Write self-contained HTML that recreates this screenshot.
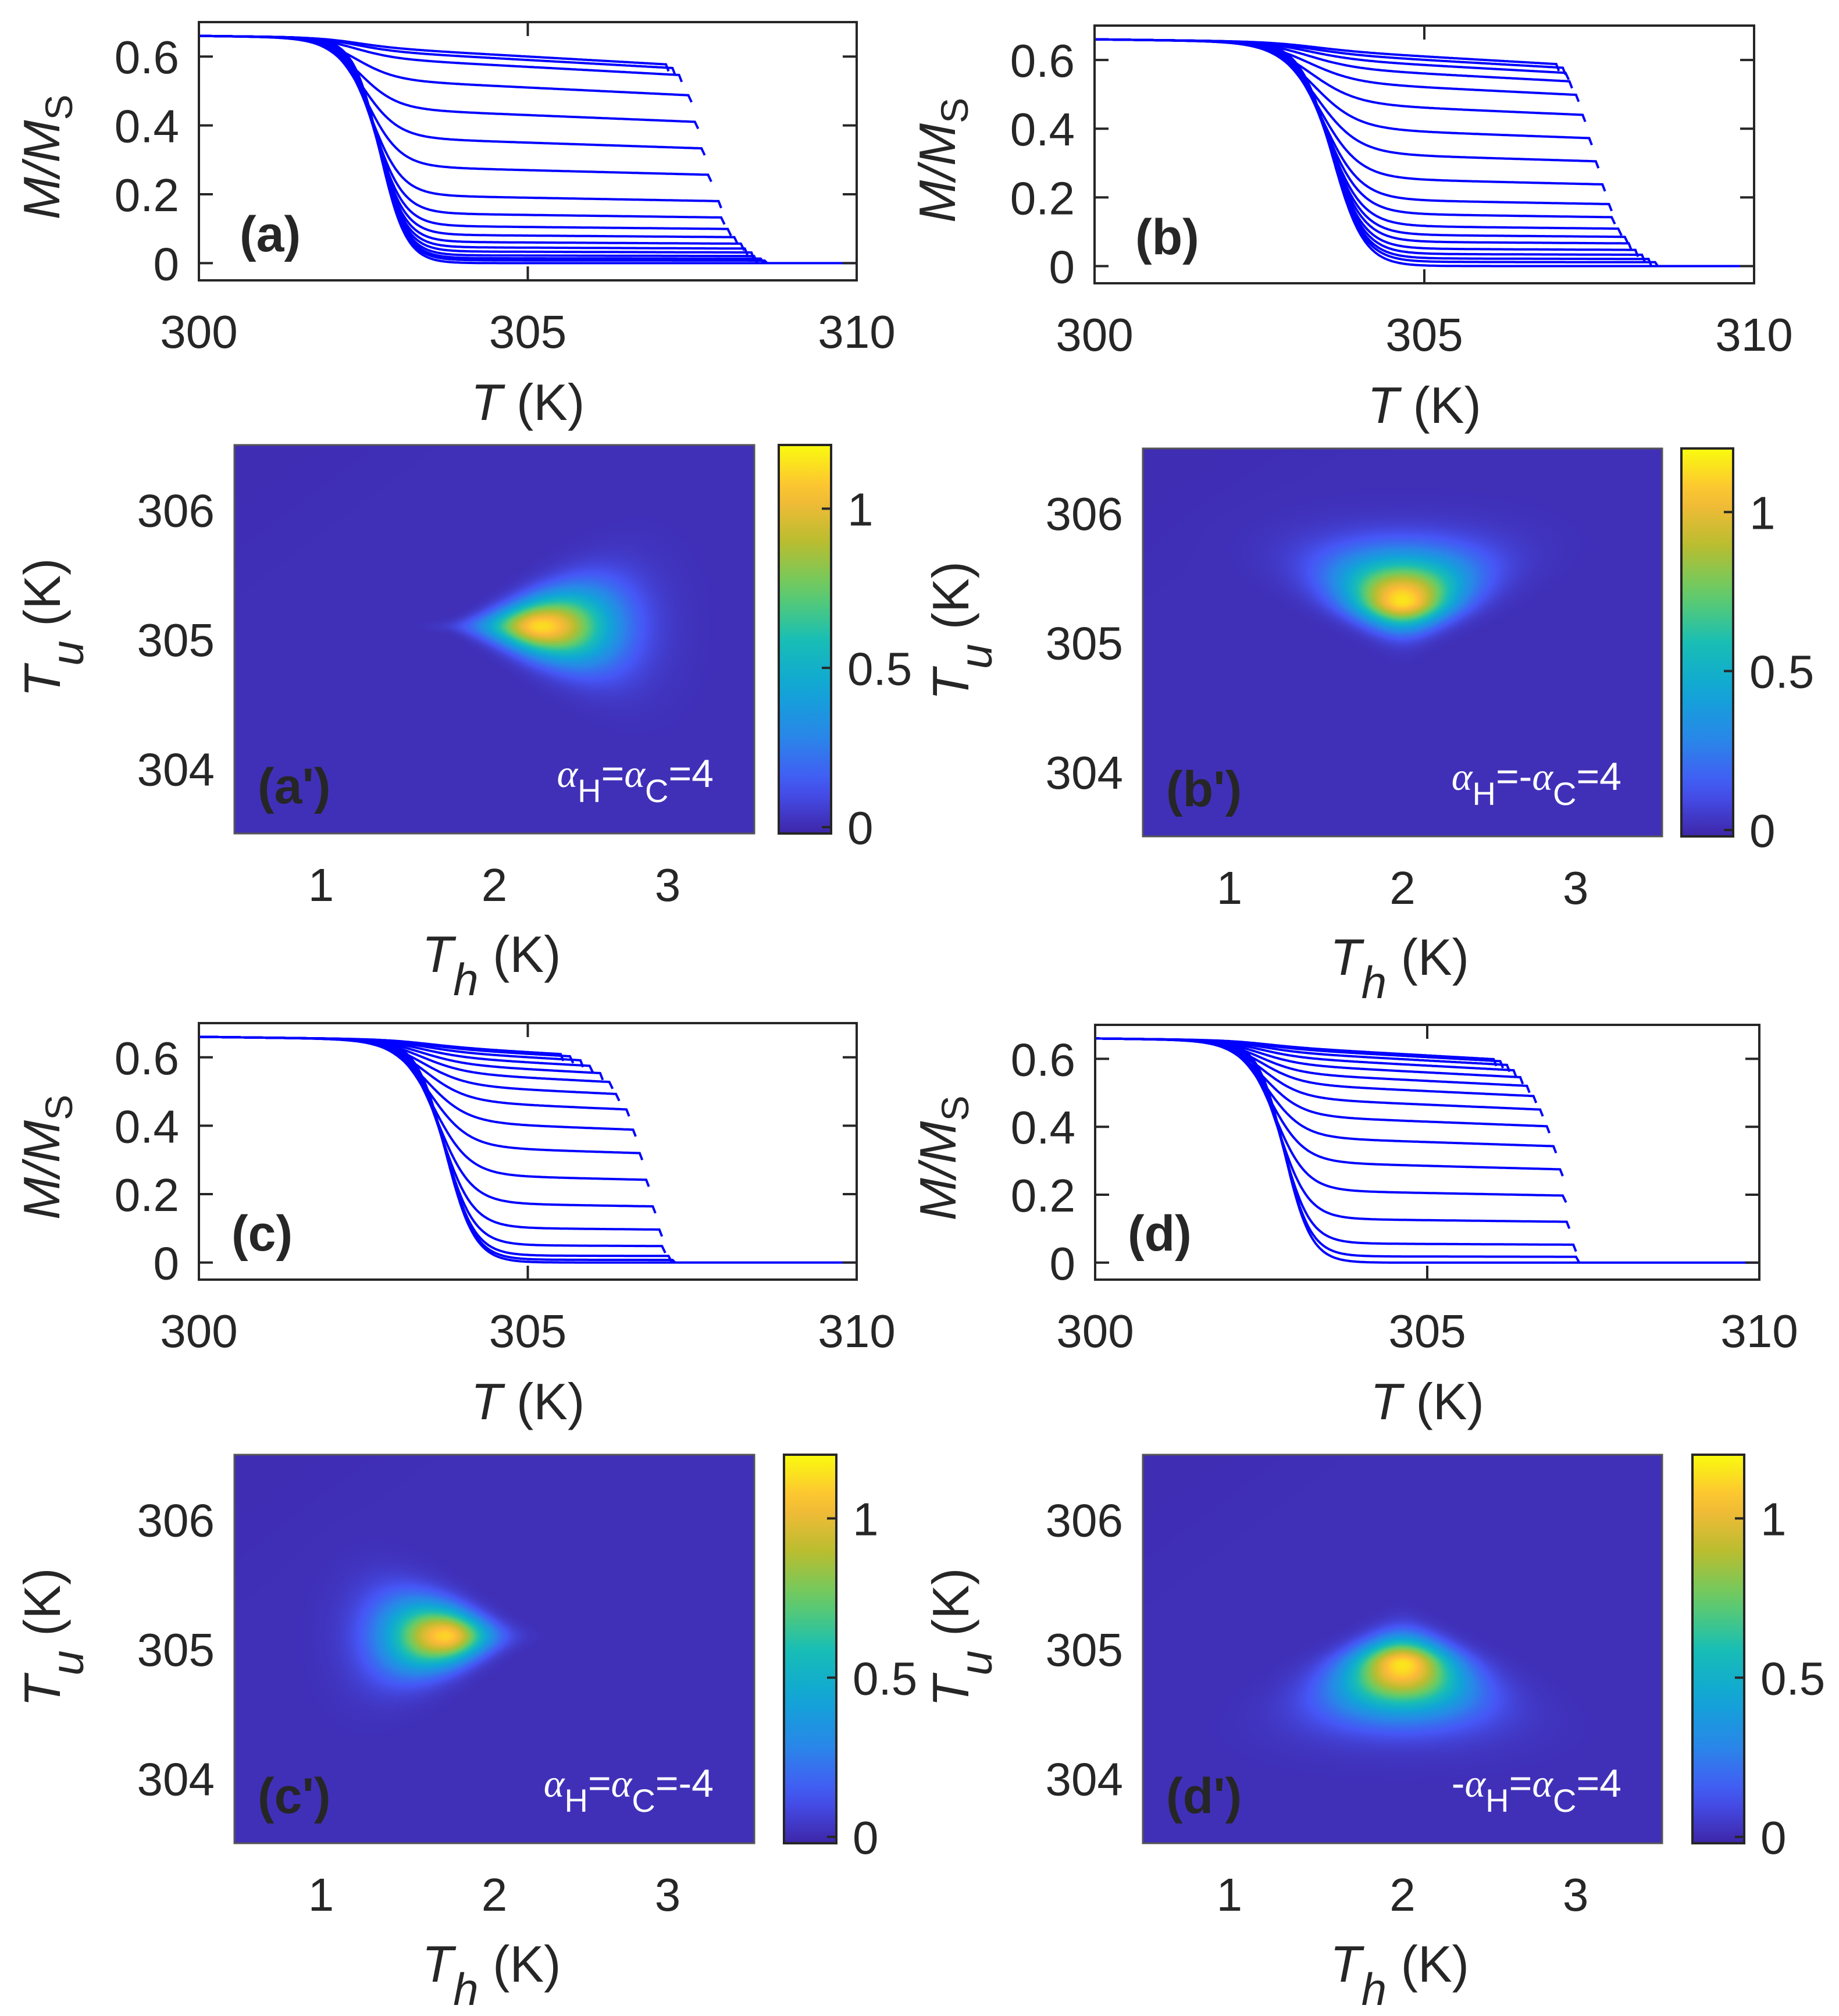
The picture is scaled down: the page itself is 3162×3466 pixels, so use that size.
<!DOCTYPE html>
<html><head><meta charset="utf-8">
<style>
html,body{margin:0;padding:0;background:#fff;}
#wrap{position:relative;width:3162px;height:3466px;overflow:hidden;}
canvas{position:absolute;}
svg{position:absolute;left:0;top:0;}
text{font-family:"Liberation Sans",sans-serif;fill:#262626;}
</style></head>
<body>
<div id="wrap">
<svg id="svg" width="3162" height="3466" viewBox="0 0 3162 3466"></svg>
</div>
<script>
// ---------- data ----------
const mTicks = [0, 0.2, 0.4, 0.6];
const tTicks = [300, 305, 310];
const thTicks = [1, 2, 3];
const tuTicks = [304, 305, 306];
const cbTicks = [0, 0.5, 1];

// plateau levels (near T=305) and end temperatures of each M(T) curve, per panel
const platA = [0.60,0.59,0.57,0.51,0.43,0.35,0.27,0.19,0.14,0.105,0.08,0.06,0.045,0.033,0.022,0.014,0.008];
const endA  = [307.1,307.2,307.3,307.45,307.55,307.65,307.75,307.9,307.95,308.05,308.15,308.25,308.3,308.4,308.45,308.55,308.6];
const platB = [0.61,0.60,0.585,0.56,0.52,0.46,0.39,0.32,0.25,0.19,0.15,0.115,0.09,0.07,0.05,0.035,0.022,0.012];
const endB  = [307.0,307.1,307.15,307.2,307.3,307.4,307.5,307.6,307.7,307.8,307.85,307.95,308.05,308.1,308.2,308.3,308.4,308.5];
const platC = [0.615,0.61,0.60,0.585,0.565,0.54,0.505,0.46,0.40,0.33,0.25,0.17,0.10,0.05,0.02,0.008];
const endC  = [305.5,305.65,305.8,305.95,306.1,306.25,306.35,306.5,306.6,306.7,306.8,306.9,307.0,307.05,307.15,307.2];
const platD = [0.61,0.605,0.595,0.58,0.56,0.535,0.505,0.465,0.415,0.355,0.285,0.205,0.125,0.055,0.018];
const endD  = [306.0,306.1,306.2,306.3,306.4,306.5,306.6,306.7,306.8,306.9,307.0,307.05,307.1,307.2,307.25];

// heatmap peak parameters: [Th, Tu, amplitude]
const peakA = [2.27, 305.1, 1.1];
const peakB = [2.0, 305.32, 1.12];
const peakC = [1.72, 305.1, 1.08];
const peakD = [2.0, 304.88, 1.12];

// ---------- helpers ----------
const svg = document.getElementById('svg');
const NS = 'http://www.w3.org/2000/svg';
function mk(tag, attrs, parent){
  const e = document.createElementNS(NS, tag);
  for (const k in attrs) e.setAttribute(k, attrs[k]);
  (parent||svg).appendChild(e);
  return e;
}
function txt(x,y,s,size,anchor,parent,extra){
  const t = mk('text',{x:x,y:y,'font-size':size,'text-anchor':anchor||'middle'},parent);
  if (extra) for (const k in extra) t.setAttribute(k, extra[k]);
  t.textContent = s;
  return t;
}
const sig = z => 1/(1+Math.exp(-z));

// ---------- line panels ----------
function linePanel(name, R, plats, ends, Tc, w, label){
  const g = mk('g',{});
  
  
  const xS = v => R.x + (v-300)/10*R.w;
  const yS = v => R.y + R.h*(0.70 - v)/0.75;
  const cg = mk('g',{},g);
  
  
  const m0 = T => 0.66-0.0025*(T-300);
  const all = plats.map((p,i)=>[p,ends[i]]);
  all.push([0.0, 310]);
  all.forEach((pe,i)=>{
    const p = pe[0], Te = pe[1];
    const Tci = Tc - 0.45*(p/0.62);
    const wi = w*(1+0.6*p/0.62);
    let d = '', last = 0;
    for (let T=300; T<=Te+1e-9; T+=0.02){
      const b = p*(1-0.018*(T-305));
      const M = b + (m0(T)-b)*sig((Tci-T)/wi);
      last = M;
      d += (d?'L':'M') + xS(T).toFixed(1) + ' ' + yS(M).toFixed(1);
    }
    if (Te<310) d += 'L' + xS(Te+0.04).toFixed(1) + ' ' + yS(Math.max(0,last-0.02)).toFixed(1);
    const path = mk('path',{d:d,fill:'none',stroke:'#0000ff','stroke-width':4},cg);
    
    
  });
  const box = mk('rect',{x:R.x,y:R.y,width:R.w,height:R.h,fill:'none',stroke:'#262626','stroke-width':4},g);
  
  
  mTicks.forEach(v=>{
    const y = yS(v);
    mk('line',{x1:R.x,x2:R.x+24,y1:y,y2:y,stroke:'#262626','stroke-width':4},g);
    mk('line',{x1:R.x+R.w-24,x2:R.x+R.w,y1:y,y2:y,stroke:'#262626','stroke-width':4},g);
    const t = txt(R.x-34,y+29,String(v),80,'end',g);
    
    
  });
  tTicks.forEach(v=>{
    const x = xS(v);
    mk('line',{x1:x,x2:x,y1:R.y,y2:R.y+24,stroke:'#262626','stroke-width':4},g);
    mk('line',{x1:x,x2:x,y1:R.y+R.h-24,y2:R.y+R.h,stroke:'#262626','stroke-width':4},g);
    const t = txt(x,R.y+R.h+116,String(v),80,'middle',g);
    
    
  });
  const xl = mk('text',{x:R.x+R.w/2,y:R.y+R.h+240,'font-size':88,'text-anchor':'middle'},g);
  
  
  xl.innerHTML = '<tspan font-style="italic">T</tspan> (K)';
  const yl = mk('text',{x:0,y:0,'font-size':88,'text-anchor':'middle',transform:`translate(${R.x-240},${R.y+R.h/2+10}) rotate(-90)`},g);
  
  
  yl.innerHTML = '<tspan font-style="italic">M/M</tspan><tspan dy="22" font-size="66">S</tspan>';
  const pl = txt(R.x+70+ (label==='(c)'||label==='(d)'?-14:0),R.y+R.h-50,label,86,'start',g,{'font-weight':'bold',fill:'#000'});
  
  
}

// ---------- colormap ----------
const cmap = [[0,62,38,168],[0.125,70,86,246],[0.25,41,135,232],[0.375,16,166,214],[0.5,25,190,180],
  [0.625,100,204,104],[0.75,185,189,48],[0.875,253,186,56],[1,249,251,14]];
function col(t){
  t = Math.max(0,Math.min(1,t));
  for (let i=1;i<cmap.length;i++){
    if (t<=cmap[i][0]){
      const a=cmap[i-1], b=cmap[i], f=(t-a[0])/(b[0]-a[0]);
      return [a[1]+f*(b[1]-a[1]), a[2]+f*(b[2]-a[2]), a[3]+f*(b[3]-a[3])];
    }
  }
  return [249,251,14];
}

function heatPanel(name, R, CB, peak, mode, label, ann){
  const g = mk('g',{});
  
  
  const cv = document.createElement('canvas');
  
  
  cv.width = R.w; cv.height = R.h;
  cv.style.left = R.x+'px'; cv.style.top = R.y+'px';
  document.getElementById('wrap').insertBefore(cv, svg);
  const ctx = cv.getContext('2d');
  const img = ctx.createImageData(R.w, R.h);
  const cell = 3;
  for (let py=0; py<R.h; py+=cell){
    const Tu = 306.5 - (py+cell/2)/R.h*3;
    for (let px=0; px<R.w; px+=cell){
      const Th = 0.5 + (px+cell/2)/R.w*3;
      const dx = Th-peak[0], dy = Tu-peak[1];
      let sx=0.27, sy=0.22;
      if (mode==='right'){ sy = Math.max(0.04, 0.22 + 0.34*dx); sx = dx<0?0.3:0.4; }
      if (mode==='left'){ sy = Math.max(0.04, 0.22 - 0.32*dx); sx = dx<0?0.34:0.24; }
      if (mode==='down'){ sx = Math.max(0.04, 0.3 + 0.45*dy); sy = dy<0?0.2:0.34; }
      if (mode==='up'){ sx = Math.max(0.04, 0.3 - 0.45*dy); sy = dy<0?0.36:0.2; }
      const r2 = (dx/sx)*(dx/sx) + (dy/sy)*(dy/sy);
      let v = peak[2]*Math.exp(-Math.pow(r2,1.0)) + 0.03 - 0.012*Math.max(0,(Tu-305.5)-(Th-1))*0.5;
      const c = col(v/1.2);
      for (let yy=py; yy<Math.min(py+cell,R.h); yy++)
        for (let xx=px; xx<Math.min(px+cell,R.w); xx++){
          const k=(yy*R.w+xx)*4;
          img.data[k]=c[0]; img.data[k+1]=c[1]; img.data[k+2]=c[2]; img.data[k+3]=255;
        }
    }
  }
  ctx.putImageData(img,0,0);
  mk('rect',{x:R.x,y:R.y,width:R.w,height:R.h,fill:'none',stroke:'#555','stroke-width':3},g);
  const gradId = name+'-grad';
  const defs = mk('defs',{},g);
  const lg = mk('linearGradient',{id:gradId,x1:0,y1:1,x2:0,y2:0},defs);
  for (let i=0;i<=20;i++){
    const c = col(i/20);
    mk('stop',{offset:i/20,'stop-color':`rgb(${c.map(Math.round).join(',')})`},lg);
  }
  const cb = mk('rect',{x:CB.x,y:R.y,width:CB.w,height:R.h,fill:`url(#${gradId})`,stroke:'#262626','stroke-width':4},g);
  
  
  const cbY = v => R.y + R.h - (v+0.02)/1.22*R.h;
  cbTicks.forEach(v=>{
    const y = cbY(v);
    mk('line',{x1:CB.x+CB.w-16,x2:CB.x+CB.w,y1:y,y2:y,stroke:'#262626','stroke-width':4},g);
    const t = txt(CB.x+CB.w+28,y+29,String(v),80,'start',g);
    
    
  });
  const xS = v => R.x + (v-0.5)/3*R.w;
  const yS = v => R.y + (306.5-v)/3*R.h;
  thTicks.forEach(v=>{
    const t = txt(xS(v),R.y+R.h+116,String(v),80,'middle',g);
    
    
  });
  tuTicks.forEach(v=>{
    const t = txt(R.x-34,yS(v)+29,String(v),80,'end',g);
    
    
  });
  const xl = mk('text',{x:R.x+R.w/2-5,y:R.y+R.h+238,'font-size':88,'text-anchor':'middle'},g);
  
  
  xl.innerHTML = '<tspan font-style="italic">T</tspan><tspan font-style="italic" dy="40" font-size="78">h</tspan><tspan dy="-40"> (K)</tspan>';
  const yl = mk('text',{x:0,y:0,'font-size':88,'text-anchor':'middle',transform:`translate(${R.x-300},${R.y+R.h/2-20}) rotate(-90)`},g);
  
  
  yl.innerHTML = '<tspan font-style="italic">T</tspan><tspan font-style="italic" dy="40" font-size="78">u</tspan><tspan dy="-40"> (K)</tspan>';
  const pl = txt(R.x+40,R.y+R.h-52,label,86,'start',g,{'font-weight':'bold',fill:'#fff'});
  
  
  const an = mk('text',{x:R.x+R.w-70,y:R.y+R.h-80,'font-size':68,'text-anchor':'end',fill:'#fff'},g);
  
  
  an.innerHTML = ann;
  an.style.fill = '#fff';
}

linePanel('panel-a',{x:342,y:38,w:1131,h:444},platA,endA,302.75,0.2,'(a)');
linePanel('panel-b',{x:1882,y:44,w:1134,h:443},platB,endB,303.6,0.24,'(b)');
linePanel('panel-c',{x:342,y:1759,w:1131,h:441},platC,endC,303.75,0.22,'(c)');
linePanel('panel-d',{x:1883,y:1762,w:1142,h:438},platD,endD,302.85,0.2,'(d)');

const sub = (s)=>`<tspan dy="26" font-size="56">${s}</tspan><tspan dy="-26">`;
const al = '<tspan font-style="italic" font-family="Liberation Serif">α</tspan>';
heatPanel('panel-a-prime',{x:403,y:765,w:894,h:668},{x:1339,w:90},peakA,'right',"(a')",
  `${al}${sub('H')}=${al}</tspan>${sub('C')}=4</tspan>`);
heatPanel('panel-b-prime',{x:1965,y:771,w:893,h:667},{x:2891,w:89},peakB,'down',"(b')",
  `${al}${sub('H')}=-${al}</tspan>${sub('C')}=4</tspan>`);
heatPanel('panel-c-prime',{x:403,y:2501,w:894,h:668},{x:1348,w:90},peakC,'left',"(c')",
  `${al}${sub('H')}=${al}</tspan>${sub('C')}=-4</tspan>`);
heatPanel('panel-d-prime',{x:1965,y:2501,w:893,h:668},{x:2910,w:89},peakD,'up',"(d')",
  `-${al}${sub('H')}=${al}</tspan>${sub('C')}=4</tspan>`);
</script>
</body></html>
